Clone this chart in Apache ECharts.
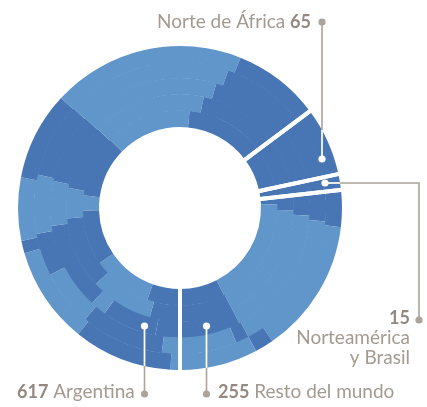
<!DOCTYPE html>
<html>
<head>
<meta charset="utf-8">
<script src="https://cdn.jsdelivr.net/npm/echarts@6/dist/echarts.min.js"></script>
<style>
  html, body { margin: 0; padding: 0; background: #fff; }
  #chart { width: 427px; height: 407px; }
</style>
</head>
<body>
<div id="chart"></div>
<script>
// regions and their totals
const groupNames = ['Argentina', 'Norte de África', 'Norteamérica y Brasil', 'Resto del mundo'];
const groupValues = [617, 65, 15, 255];

// sub-cells of the ring, read in five bands (inner -> outer), clockwise from 6 o'clock
const band1Cells = ['F', 'E', 'B', 'A', 'O', 'N', 'M', 'NdA', 'NAB', 'L', 'K', 'H'];
const band1Values = [52, 95, 87, 24, 97, 136, 126, 65, 15, 11, 173, 71];
const band2Cells = ['F', 'E', 'B', 'A', 'O', 'N', 'M', 'NdA', 'NAB', 'L', 'K', 'H'];
const band2Values = [41, 86, 97, 41, 89, 154, 109, 65, 15, 20, 163, 72];
const band3Cells = ['F', 'D', 'E', 'B', 'A', 'O', 'N', 'M', 'NdA', 'NAB', 'L', 'K', 'H'];
const band3Values = [29, 65, 19, 104, 53, 83, 166, 98, 65, 15, 26, 157, 72];
const band4Cells = ['G', 'D', 'C', 'B', 'A', 'O', 'N', 'M', 'NdA', 'NAB', 'L', 'K', 'H', 'I'];
const band4Values = [19, 88, 59, 45, 62, 79, 175, 90, 65, 15, 31, 150, 14, 60];
const band5Cells = ['G', 'D', 'C', 'B', 'A', 'O', 'N', 'M', 'NdA', 'NAB', 'L', 'K', 'J', 'I'];
const band5Values = [9, 94, 92, 12, 60, 84, 183, 83, 65, 15, 35, 128, 18, 74];

const lightCells = ['G', 'E', 'C', 'A', 'N', 'K', 'I'];

const LIGHT = '#6196cb';
const DARK = '#4876b5';
const TEXT = '#a39a90';
const NUM = '#938980';
const LINE = '#aca399';

const CX = 180, CY = 208, R_IN = 81, R_OUT = 162;
const BAND = (R_OUT - R_IN) / 5;

const chart = echarts.init(document.getElementById('chart'));

function ring(cells, values, k) {
  const r0 = R_IN + BAND * k;
  const r1 = k === 4 ? R_OUT : r0 + BAND + 0.5;
  return {
    type: 'pie',
    silent: true,
    startAngle: -90,
    clockwise: true,
    center: [CX, CY],
    radius: [r0, r1],
    label: { show: false },
    labelLine: { show: false },
    itemStyle: { borderWidth: 0 },
    data: values.map((v, i) => ({
      name: cells[i],
      value: v,
      itemStyle: { color: lightCells.indexOf(cells[i]) >= 0 ? LIGHT : DARK }
    }))
  };
}

// white gaps between the regions
const gaps = {
  type: 'pie',
  silent: true,
  startAngle: -90,
  center: [CX, CY],
  radius: [R_IN - 7, R_OUT + 8],
  label: { show: false },
  labelLine: { show: false },
  itemStyle: { color: 'rgba(0,0,0,0)', borderColor: '#fff', borderWidth: 4 },
  data: groupValues.map((v, i) => ({ name: groupNames[i], value: v }))
};

// where a vertical / horizontal leader meets the outer edge
function edgeY(x, sign) {
  const dx = x - CX;
  return CY + sign * Math.sqrt(R_OUT * R_OUT - dx * dx);
}
function edgeX(y) {
  const dy = y - CY;
  return CX + Math.sqrt(R_OUT * R_OUT - dy * dy);
}

function line(points, color) {
  return { type: 'polyline', z: 10, shape: { points: points }, style: { stroke: color, lineWidth: 1.6, fill: null } };
}
function dot(x, y, color) {
  return { type: 'circle', z: 11, shape: { cx: x, cy: y, r: 3.6 }, style: { fill: color } };
}
function label(x, y, text, align) {
  return {
    type: 'text', z: 12, x: x, y: y,
    style: {
      text: text, align: align, verticalAlign: 'middle',
      font: '19px Lato', fill: TEXT,
      rich: {
        t: { font: '19px Lato', fill: TEXT },
        n: { font: 'bold 18px Lato', fill: NUM }
      }
    }
  };
}

const leaders = [];
// Norte de África
leaders.push(line([[322, 22], [322, 159]], LINE));
leaders.push(line([[322, edgeY(322, -1)], [322, 159]], '#fff'));
leaders.push(dot(322, 22, LINE), dot(322, 159, '#fff'));
// Norteamérica y Brasil
leaders.push(line([[325, 183], [419, 183], [419, 320]], LINE));
leaders.push(line([[325, 183], [edgeX(183), 183]], '#fff'));
leaders.push(dot(419, 320, LINE), dot(325, 183, '#fff'));
// Argentina
leaders.push(line([[144.5, 326], [144.5, 394]], LINE));
leaders.push(line([[144.5, 326], [144.5, edgeY(144.5, 1)]], '#fff'));
leaders.push(dot(144.5, 394, LINE), dot(144.5, 326, '#fff'));
// Resto del mundo
leaders.push(line([[206.5, 326], [206.5, 394]], LINE));
leaders.push(line([[206.5, 326], [206.5, edgeY(206.5, 1)]], '#fff'));
leaders.push(dot(206.5, 394, LINE), dot(206.5, 326, '#fff'));

const texts = [
  label(311, 22, '{t|Norte de África }{n|' + groupValues[1] + '}', 'right'),
  label(410, 318, '{n|' + groupValues[2] + '}', 'right'),
  label(410, 338, 'Norteamérica', 'right'),
  label(410, 358, 'y Brasil', 'right'),
  label(17, 392, '{n|' + groupValues[0] + '}{t| Argentina}', 'left'),
  label(218, 392, '{n|' + groupValues[3] + '}{t| Resto del mundo}', 'left')
];

chart.setOption({
  animation: false,
  backgroundColor: '#fff',
  series: [
    ring(band1Cells, band1Values, 0),
    ring(band2Cells, band2Values, 1),
    ring(band3Cells, band3Values, 2),
    ring(band4Cells, band4Values, 3),
    ring(band5Cells, band5Values, 4),
    gaps
  ],
  graphic: leaders.concat(texts)
});
</script>
</body>
</html>
